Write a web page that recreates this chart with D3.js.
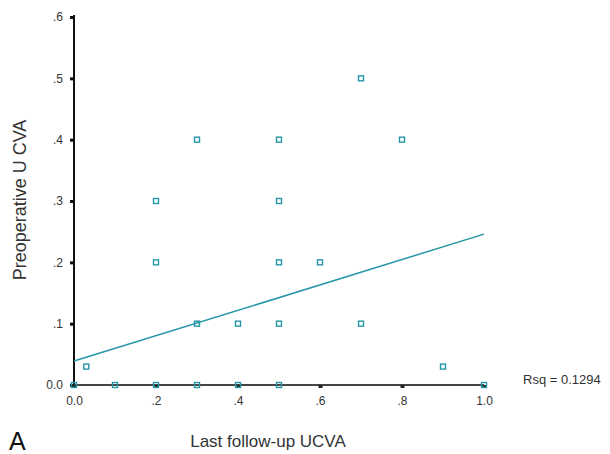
<!DOCTYPE html>
<html>
<head>
<meta charset="utf-8">
<script src="https://cdn.jsdelivr.net/npm/d3@7"></script>
<style>
  html, body { margin: 0; padding: 0; background: #fff; }
  svg { display: block; }
  text { font-family: "Liberation Sans", Arial, sans-serif; }
</style>
</head>
<body>
<svg id="chart" width="610" height="454"></svg>
<script>
// Last follow-up UCVA (x) vs preoperative UCVA (y)
const followUp     = [0.7, 0.3, 0.5, 0.8, 0.2, 0.5, 0.2, 0.5, 0.6, 0.3, 0.4, 0.5, 0.7, 0.03, 0.9, 0.0, 0.1, 0.2, 0.3, 0.4, 0.5, 1.0];
const preoperative = [0.5, 0.4, 0.4, 0.4, 0.3, 0.3, 0.2, 0.2, 0.2, 0.1, 0.1, 0.1, 0.1, 0.03, 0.03, 0.0, 0.0, 0.0, 0.0, 0.0, 0.0, 0.0];

// Linear fit line
const fitIntercept = 0.039;
const fitSlope = 0.207;
const rsqLabel = "Rsq = 0.1294";

const xTicks = [0, 0.2, 0.4, 0.6, 0.8, 1.0];
const xTickLabels = ["0.0", ".2", ".4", ".6", ".8", "1.0"];
const yTicks = [0, 0.1, 0.2, 0.3, 0.4, 0.5, 0.6];
const yTickLabels = ["0.0", ".1", ".2", ".3", ".4", ".5", ".6"];

const svg = d3.select("#chart");
const x = d3.scaleLinear().domain([0, 1]).range([74, 484]);
const y = d3.scaleLinear().domain([0, 0.6]).range([385, 17]);
const teal = "#2596a8";

// Y axis
const yAxis = d3.axisLeft(y).tickValues(yTicks)
  .tickFormat((d, i) => yTickLabels[i]).tickSize(4).tickPadding(7);
const gy = svg.append("g").attr("transform", `translate(${x(0)},0)`).call(yAxis);
gy.select(".domain").attr("stroke", "#111").attr("stroke-width", 2)
  .attr("d", `M0,${y(0)}V${y(0.6) - 2}`);
gy.selectAll(".tick line").attr("stroke", "#111").attr("stroke-width", 3);
gy.selectAll(".tick text").attr("font-size", 12).attr("fill", "#333")
  .attr("font-family", "Liberation Sans, Arial, sans-serif");

// X axis
const xAxis = d3.axisBottom(x).tickValues(xTicks)
  .tickFormat((d, i) => xTickLabels[i]).tickSize(3).tickPadding(8);
const gx = svg.append("g").attr("transform", `translate(0,${y(0)})`).call(xAxis);
gx.select(".domain").attr("stroke", "#444").attr("stroke-width", 2)
  .attr("d", `M${x(0)},0H${x(1)}`);
gx.selectAll(".tick line").attr("stroke", "#222").attr("stroke-width", 4);
gx.selectAll(".tick text").attr("font-size", 12).attr("fill", "#333")
  .attr("font-family", "Liberation Sans, Arial, sans-serif");

// Fit line
svg.append("line")
  .attr("x1", x(0)).attr("y1", y(fitIntercept))
  .attr("x2", x(1)).attr("y2", y(fitIntercept + fitSlope))
  .attr("stroke", teal).attr("stroke-width", 1.5);

// Points as hollow squares
const s = 5;
svg.append("g").selectAll("rect")
  .data(followUp.map((v, i) => [v, preoperative[i]]))
  .join("rect")
  .attr("x", d => x(d[0]) - s / 2)
  .attr("y", d => y(d[1]) - s / 2)
  .attr("width", s).attr("height", s)
  .attr("fill", "none").attr("stroke", teal).attr("stroke-width", 1.4);

// Labels
svg.append("text").attr("x", 523).attr("y", 384).attr("font-size", 13)
  .attr("fill", "#333").text(rsqLabel);

svg.append("text").attr("x", 268).attr("y", 447).attr("text-anchor", "middle")
  .attr("font-size", 17).attr("fill", "#333").text("Last follow-up UCVA");

svg.append("text").attr("transform", "translate(26,200) rotate(-90)")
  .attr("text-anchor", "middle").attr("font-size", 18).attr("fill", "#333")
  .text("Preoperative U CVA");

svg.append("text").attr("x", 9).attr("y", 450).attr("font-size", 25)
  .attr("fill", "#111").text("A");
</script>
</body>
</html>
